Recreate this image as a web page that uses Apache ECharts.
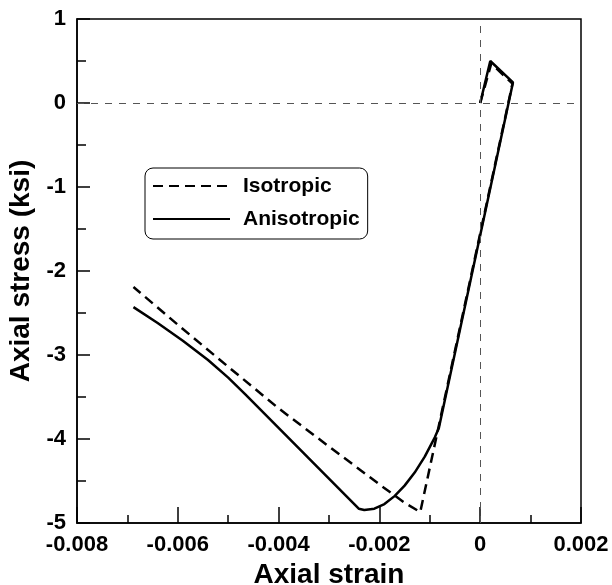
<!DOCTYPE html>
<html>
<head>
<meta charset="utf-8">
<script src="https://cdn.jsdelivr.net/npm/echarts@6/dist/echarts.min.js"></script>
<style>
html,body{margin:0;padding:0;background:#fff;}
#chart{width:612px;height:585px;}
</style>
</head>
<body>
<div id="chart"></div>
<script>
// Isotropic (dashed) curve
var isoStrain = [0, 0.00022, 0.00064, -0.00119, -0.0015, -0.002, -0.003, -0.004, -0.005, -0.006, -0.00688];
var isoStress = [0, 0.47, 0.23, -4.87, -4.76, -4.54, -4.09, -3.635, -3.14, -2.64, -2.19];
// Anisotropic (solid) curve
var anisoStrain = [0, 0.0002, 0.00065, -0.00082, -0.0009, -0.0011, -0.0013, -0.0015, -0.0017, -0.0019, -0.0021, -0.0023, -0.00241, -0.00466, -0.005, -0.0054, -0.0059, -0.0064, -0.00688];
var anisoStress = [0, 0.5, 0.245, -3.87, -3.98, -4.21, -4.40, -4.555, -4.68, -4.775, -4.83, -4.845, -4.83, -3.47, -3.27, -3.06, -2.83, -2.62, -2.43];
// Axis ticks
var xTicks = [-0.008, -0.006, -0.004, -0.002, 0, 0.002];
var yTicks = [-5, -4, -3, -2, -1, 0, 1];
var seriesNames = ['Isotropic', 'Anisotropic'];

function pairs(xs, ys) { return xs.map(function (x, i) { return [x, ys[i]]; }); }

var FONT = 'Liberation Sans, Arial, Helvetica, sans-serif';
var chart = echarts.init(document.getElementById('chart'), null, {renderer: 'canvas'});
chart.setOption({
  animation: false,
  backgroundColor: '#fff',
  grid: {left: 77, right: 31, top: 19, bottom: 62, outerBoundsMode: 'none', containLabel: false,
    show: true, borderColor: '#000', borderWidth: 1.5, backgroundColor: 'transparent'},
  legend: {
    data: seriesNames,
    orient: 'vertical',
    left: 145, top: 168,
    itemWidth: 77, itemHeight: 12, itemGap: 11,
    padding: [7, 8, 9, 7],
    borderColor: '#000', borderWidth: 1, borderRadius: 8,
    backgroundColor: '#fff',
    itemStyle: {opacity: 0, borderWidth: 0},
    textStyle: {fontFamily: FONT, fontWeight: 'bold', fontSize: 21, color: '#000', lineHeight: 22, padding: [0, 0, 0, 8]}
  },
  xAxis: {
    type: 'value', min: xTicks[0], max: xTicks[xTicks.length - 1], interval: 0.002,
    name: 'Axial strain', nameLocation: 'middle', nameGap: 31,
    nameTextStyle: {fontFamily: FONT, fontWeight: 'bold', fontSize: 28, color: '#000'},
    axisLine: {onZero: false, lineStyle: {color: '#000', width: 1.5}},
    axisTick: {inside: true, length: 16, lineStyle: {color: '#000', width: 1.5}},
    minorTick: {show: true, splitNumber: 2, length: 8, lineStyle: {color: '#000', width: 1.5}},
    splitLine: {show: false},
    axisLabel: {fontFamily: FONT, fontWeight: 'bold', fontSize: 22, color: '#000', margin: 11,
      formatter: function (v) { return String(Number(v.toFixed(3))); }}
  },
  yAxis: {
    type: 'value', min: yTicks[0], max: yTicks[yTicks.length - 1], interval: 1,
    name: 'Axial stress (ksi)', nameLocation: 'middle', nameGap: 35,
    nameTextStyle: {fontFamily: FONT, fontWeight: 'bold', fontSize: 28, color: '#000'},
    axisLine: {onZero: false, lineStyle: {color: '#000', width: 1.5}},
    axisTick: {inside: true, length: 13, lineStyle: {color: '#000', width: 1.5}},
    minorTick: {show: true, splitNumber: 2, length: 9, lineStyle: {color: '#000', width: 1.5}},
    splitLine: {show: false},
    axisLabel: {fontFamily: FONT, fontWeight: 'bold', fontSize: 22, color: '#000', margin: 11,
      formatter: function (v) { return String(v); }}
  },
  series: [
    {
      name: seriesNames[0], type: 'line', data: pairs(isoStrain, isoStress),
      symbol: 'none', smooth: false, z: 3,
      lineStyle: {color: '#000', width: 2.5, type: [10, 6]},
      itemStyle: {color: '#000'},
      markLine: {
        silent: true, symbol: 'none', label: {show: false},
        lineStyle: {color: '#555', width: 1, type: [7, 7]},
        data: [{xAxis: 0}, {yAxis: 0}]
      }
    },
    {
      name: seriesNames[1], type: 'line', data: pairs(anisoStrain, anisoStress),
      symbol: 'none', smooth: false, z: 4,
      lineStyle: {color: '#000', width: 2.5, type: 'solid'},
      itemStyle: {color: '#000'}
    }
  ]
});
</script>
</body>
</html>
